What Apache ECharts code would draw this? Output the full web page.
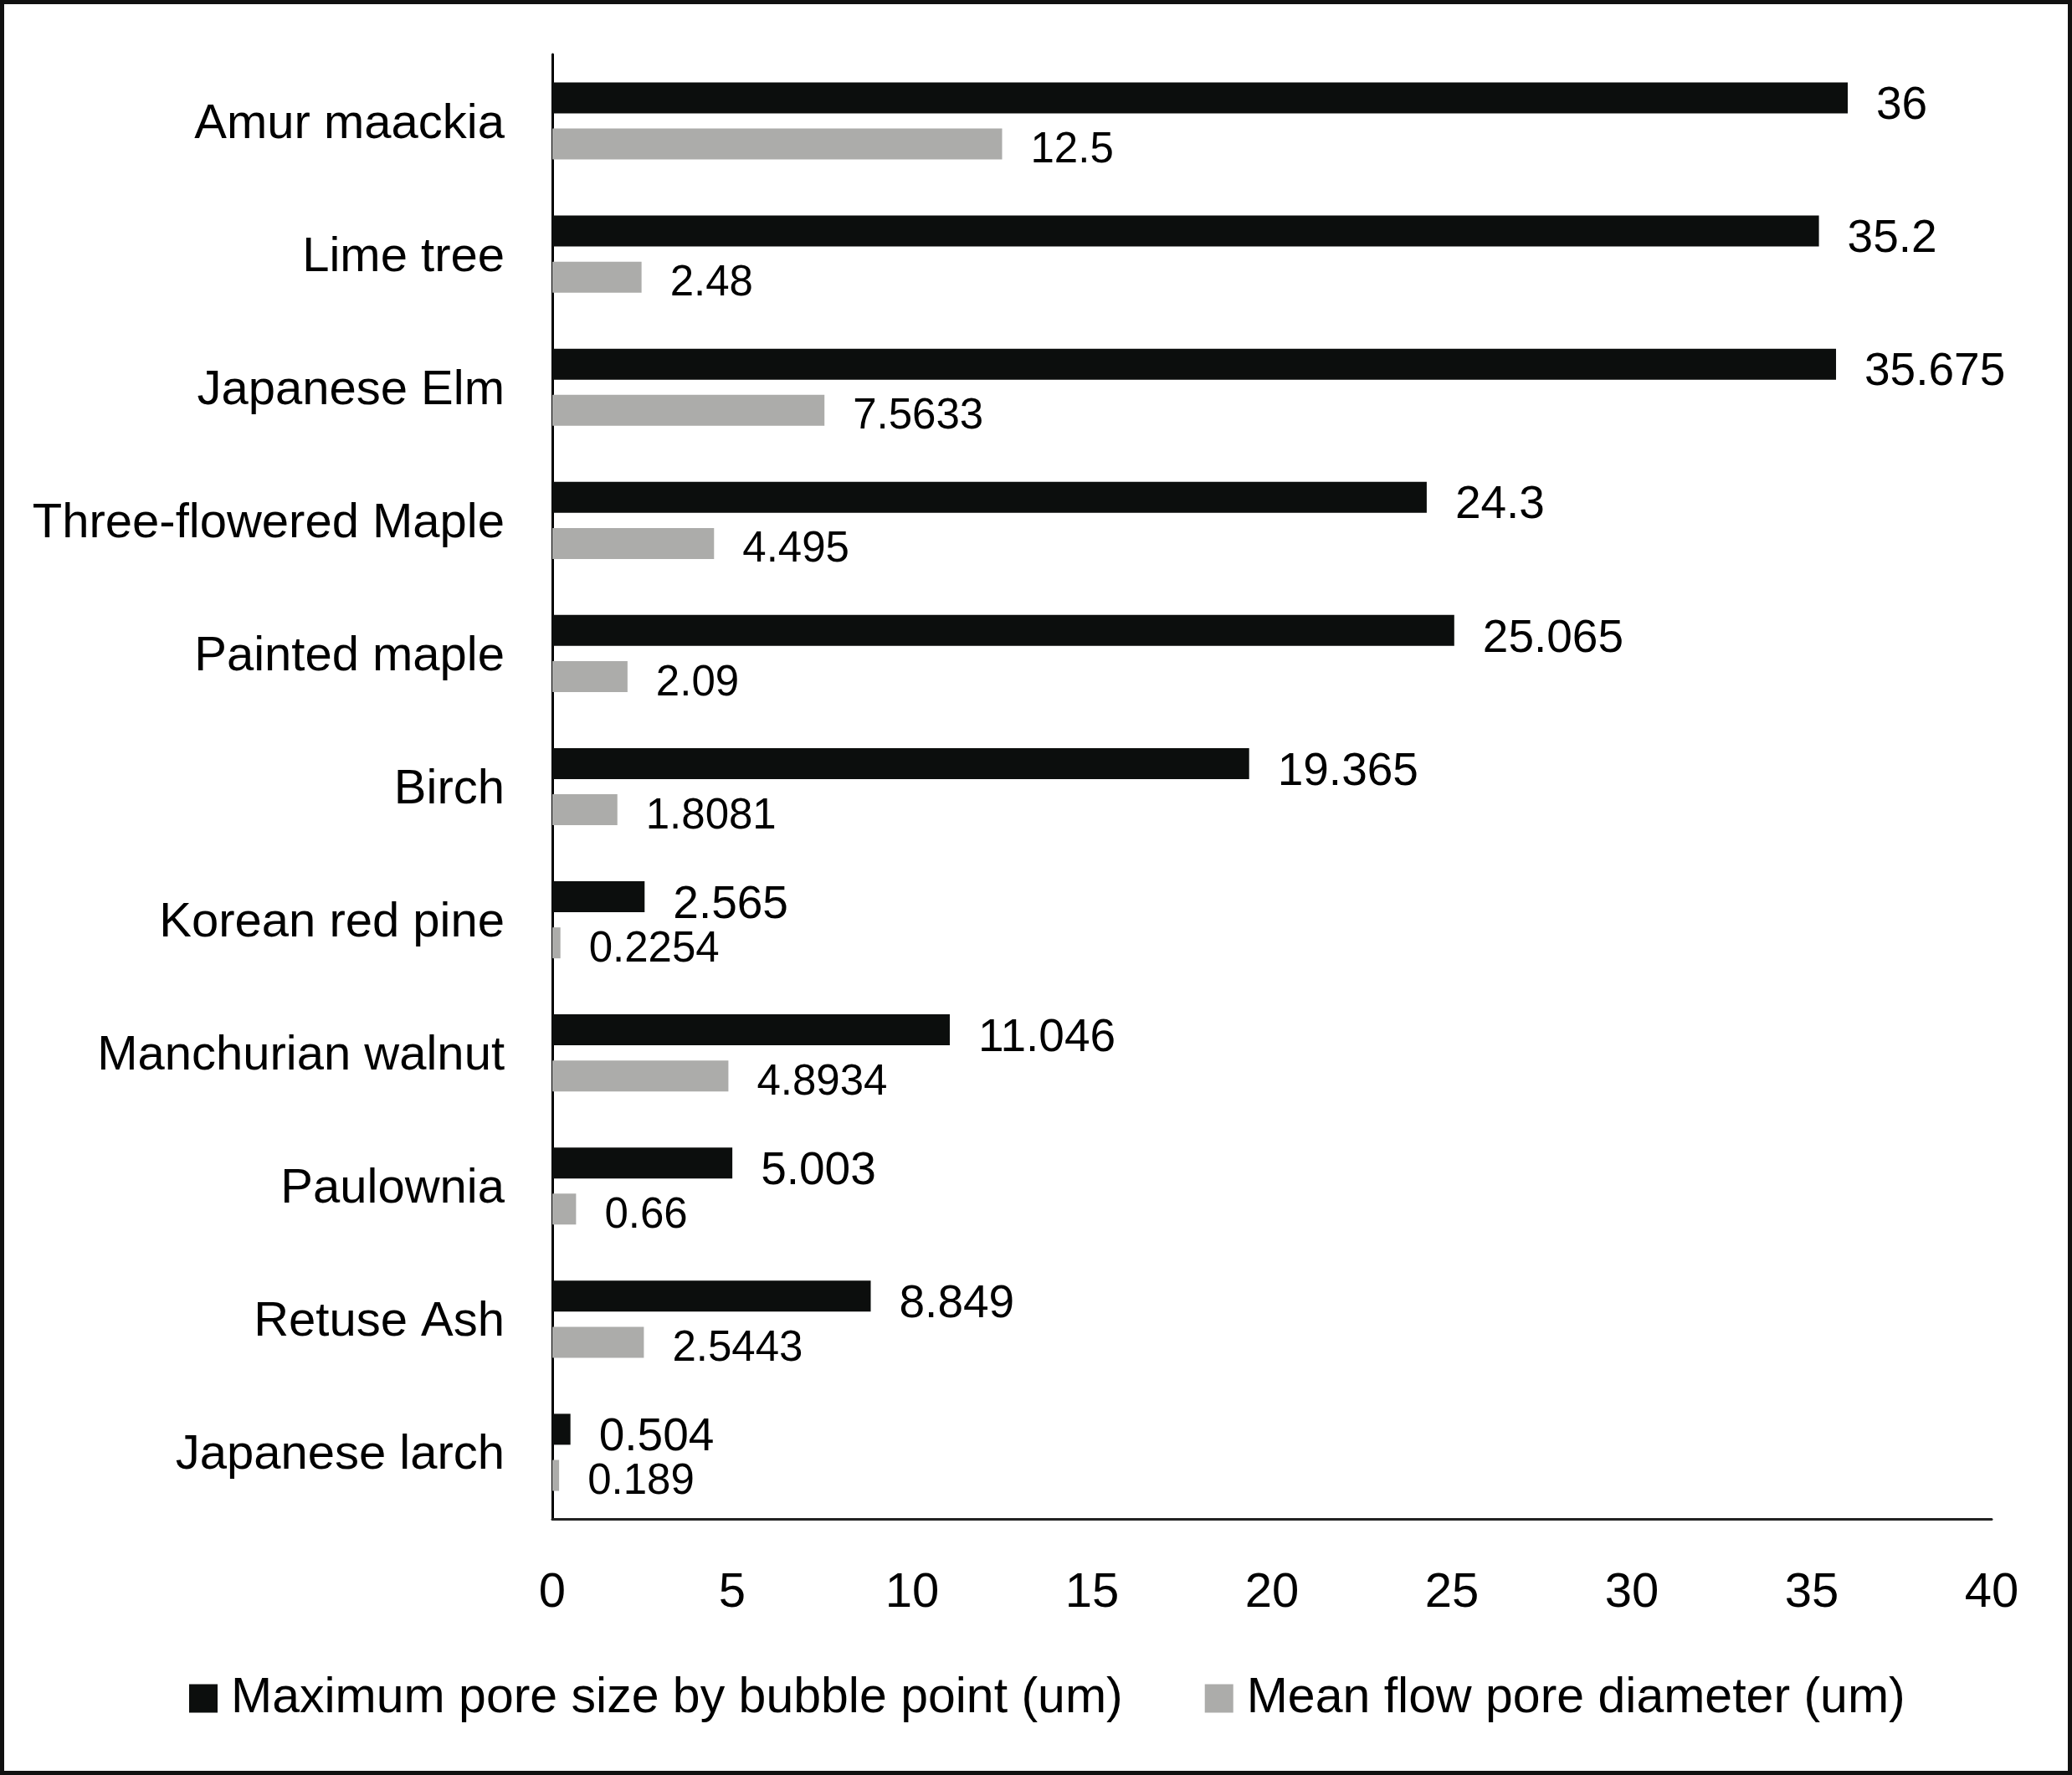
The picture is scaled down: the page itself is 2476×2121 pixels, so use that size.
<!DOCTYPE html>
<html>
<head>
<meta charset="utf-8">
<script src="https://cdn.jsdelivr.net/npm/echarts@6/dist/echarts.min.js"></script>
<style>
html,body{margin:0;padding:0;background:#fff;}
#c{width:2476px;height:2121px;}
</style>
</head>
<body>
<div id="c"></div>
<script>
var categories = ["Amur maackia","Lime tree","Japanese Elm","Three-flowered Maple","Painted maple","Birch","Korean red pine","Manchurian walnut","Paulownia","Retuse Ash","Japanese larch"];
var maxPore = [36, 35.2, 35.675, 24.3, 25.065, 19.365, 2.565, 11.046, 5.003, 8.849, 0.504];
var meanFlow = [12.5, 2.48, 7.5633, 4.495, 2.09, 1.8081, 0.2254, 4.8934, 0.66, 2.5443, 0.189];
var seriesNames = ["Maximum pore size by bubble point (um)", "Mean flow pore diameter (um)"];

var FONT = '"Liberation Sans", Arial, sans-serif';
var chart = echarts.init(document.getElementById('c'), null, {renderer:'canvas'});
chart.setOption({
  backgroundColor:'#fff',
  animation:false,
  textStyle:{fontFamily:FONT},
  graphic:[{type:'rect', shape:{x:2.5,y:2.5,width:2471,height:2116}, style:{fill:'none', stroke:'#111', lineWidth:5}, z:100}],
  grid:{left:660, right:96, top:65, bottom:306, containLabel:false},
  legend:{
    left:226, top:2000, itemWidth:34, itemHeight:34, itemGap:98, padding:0,
    icon:'rect',
    textStyle:{fontSize:59, color:'#000', fontFamily:FONT, padding:[0,0,0,11]},
    data:seriesNames
  },
  xAxis:{
    type:'value', min:0, max:40, interval:5,
    axisLine:{show:true, lineStyle:{color:'#222', width:3}},
    axisTick:{show:false},
    splitLine:{show:false},
    axisLabel:{fontSize:58, color:'#000', margin:60, fontFamily:FONT}
  },
  yAxis:{
    type:'category', inverse:true, data:categories,
    axisLine:{show:true, lineStyle:{color:'#000', width:3}},
    axisTick:{show:false},
    axisLabel:{fontSize:58, color:'#000', margin:57, fontFamily:FONT, verticalAlign:'top', lineHeight:8}
  },
  series:[
    {name:seriesNames[0], type:'bar', data:maxPore, barWidth:37, barGap:'49%',
     itemStyle:{color:'#0c0e0d'},
     label:{show:true, position:'right', distance:34, fontSize:55, color:'#000', fontFamily:FONT, offset:[0,10]}},
    {name:seriesNames[1], type:'bar', data:meanFlow, barWidth:37,
     itemStyle:{color:'#acacaa'},
     label:{show:true, position:'right', distance:34, fontSize:51, color:'#000', fontFamily:FONT, offset:[0,8]}}
  ]
});
</script>
</body>
</html>
